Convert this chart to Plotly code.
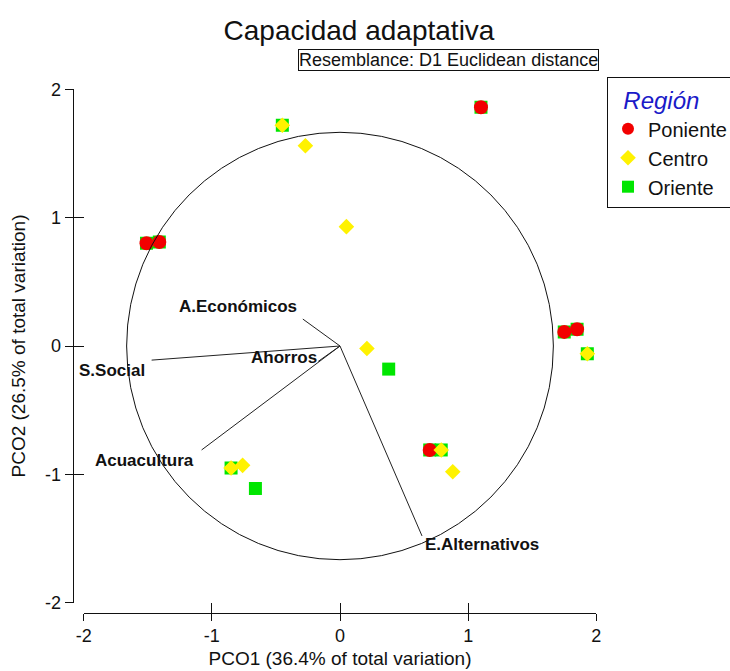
import plotly.graph_objects as go

# ---------------- data ----------------
poniente_x = [1.10, -1.51, -1.41, 1.75, 1.85, 0.70]
poniente_y = [1.86, 0.80, 0.81, 0.11, 0.13, -0.81]

centro_x = [-0.45, -0.27, 0.05, 0.21, 1.93, -0.85, -0.76, 0.79, 0.88]
centro_y = [1.72, 1.56, 0.93, -0.02, -0.06, -0.95, -0.93, -0.81, -0.98]

oriente_x = [1.10, -0.45, -1.51, -1.41, 1.75, 1.85, 1.93, -0.85, -0.66, 0.38, 0.70, 0.79]
oriente_y = [1.86, 1.72, 0.80, 0.81, 0.11, 0.13, -0.06, -0.95, -1.11, -0.18, -0.81, -0.81]

vec_names = ["A.Económicos", "Ahorros", "S.Social", "Acuacultura", "E.Alternativos"]
vec_x = [-0.29, -0.17, -1.47, -1.08, 0.64]
vec_y = [0.21, -0.12, -0.11, -0.81, -1.48]

circle_radius = 1.665

tick_vals = [-2, -1, 0, 1, 2]
tick_text = ["-2", "-1", "0", "1", "2"]

# ---------------- layout helpers ----------------
W, H = 730, 671
def px(v):
    return v / W
def py(v):
    return 1 - v / H

FONT = "Liberation Sans, Arial, sans-serif"
RED = "#f20000"
YELLOW = "#fff200"
GREEN = "#00e600"

# label placement relative to vector tips (anchor, xshift, yshift)
label_style = {
    "A.Económicos": ("right", -4, 13),
    "Ahorros": ("right", 1, 4),
    "S.Social": ("right", -5, -10),
    "Acuacultura": ("right", -6, -11),
    "E.Alternativos": ("left", 1, -9),
}

fig = go.Figure()

fig.add_trace(go.Scatter(
    x=oriente_x, y=oriente_y, mode="markers", name="Oriente", legendrank=3,
    marker=dict(symbol="square", size=13, color=GREEN, line=dict(width=0)),
    hoverinfo="x+y+name"))
fig.add_trace(go.Scatter(
    x=poniente_x, y=poniente_y, mode="markers", name="Poniente", legendrank=1,
    marker=dict(symbol="circle", size=14, color=RED, line=dict(width=0)),
    hoverinfo="x+y+name"))
fig.add_trace(go.Scatter(
    x=centro_x, y=centro_y, mode="markers", name="Centro", legendrank=2,
    marker=dict(symbol="diamond", size=12, color=YELLOW, line=dict(width=0)),
    hoverinfo="x+y+name"))

lx, ly = [], []
for vx, vy in zip(vec_x, vec_y):
    lx += [0, vx, None]
    ly += [0, vy, None]
fig.add_trace(go.Scatter(x=lx, y=ly, mode="lines", line=dict(color="#222222", width=1),
                         showlegend=False, hoverinfo="skip"))

# overlay axes to get ticks crossing the axis lines
fig.add_trace(go.Scatter(x=[None], y=[None], xaxis="x2", yaxis="y2", showlegend=False,
                         hoverinfo="skip"))

for name, vx, vy in zip(vec_names, vec_x, vec_y):
    anchor, xs, ys = label_style[name]
    fig.add_annotation(x=vx, y=vy, xref="x", yref="y", text=name, showarrow=False,
                       xanchor=anchor, yanchor="middle", xshift=xs, yshift=ys,
                       font=dict(family=FONT, size=17, color="#111111", weight="bold"))

fig.add_shape(type="circle", xref="x", yref="y",
              x0=-circle_radius, x1=circle_radius, y0=-circle_radius, y1=circle_radius,
              line=dict(color="#111111", width=1), layer="above")

fig.add_annotation(x=px(448.5), y=py(60), xref="paper", yref="paper",
                   text="Resemblance: D1 Euclidean distance", showarrow=False,
                   font=dict(family=FONT, size=18, color="#111111"),
                   bordercolor="#111111", borderwidth=1, borderpad=0, bgcolor="white",
                   xanchor="center", yanchor="middle")

axis_common = dict(range=[-2, 2], showgrid=False, zeroline=False,
                   tickmode="array", tickvals=tick_vals, ticktext=tick_text,
                   tickcolor="#111111", tickwidth=1)

fig.update_layout(
    width=W, height=H,
    margin=dict(l=0, r=0, t=0, b=0, autoexpand=False),
    paper_bgcolor="white", plot_bgcolor="white",
    font=dict(family=FONT, color="#111111"),
    title=dict(text="Capacidad adaptativa", x=px(359), xanchor="center",
               y=py(30), yanchor="middle", xref="paper", yref="paper",
               font=dict(family=FONT, size=28, color="#111111")),
    xaxis=dict(**axis_common, domain=[px(83.7), px(596.3)], anchor="free",
               position=py(612.7), showline=True, linecolor="#111111", linewidth=1,
               ticks="outside", ticklen=7,
               tickfont=dict(family=FONT, size=18, color="#111111"),
               title=dict(text="PCO1 (36.4% of total variation)", standoff=6,
                          font=dict(family=FONT, size=19, color="#111111"))),
    yaxis=dict(**axis_common, domain=[py(602.7), py(89.3)], anchor="free",
               position=px(72.7), showline=True, linecolor="#111111", linewidth=1,
               ticks="outside", ticklen=8,
               tickfont=dict(family=FONT, size=18, color="#111111"),
               title=dict(text="PCO2 (26.5% of total variation)", standoff=13,
                          font=dict(family=FONT, size=19, color="#111111"))),
    xaxis2=dict(**axis_common, overlaying="x", anchor="free", position=py(612.7),
                ticks="inside", ticklen=10, showticklabels=False, showline=False),
    yaxis2=dict(**axis_common, overlaying="y", anchor="free", position=px(72.7),
                ticks="inside", ticklen=10, showticklabels=False, showline=False),
    legend=dict(x=px(607), y=py(77), xanchor="left", yanchor="top",
                bordercolor="#111111", borderwidth=1, bgcolor="white",
                font=dict(family=FONT, size=20, color="#111111"),
                title=dict(text="&nbsp;&nbsp;<i>Región</i>", side="top",
                           font=dict(family=FONT, size=24, color="#1a1ac8")),
                itemsizing="constant", tracegroupgap=0),
    showlegend=True,
)

fig.write_html("out.html", config={"displayModeBar": False},
               post_script="document.body.style.margin='0px';")
